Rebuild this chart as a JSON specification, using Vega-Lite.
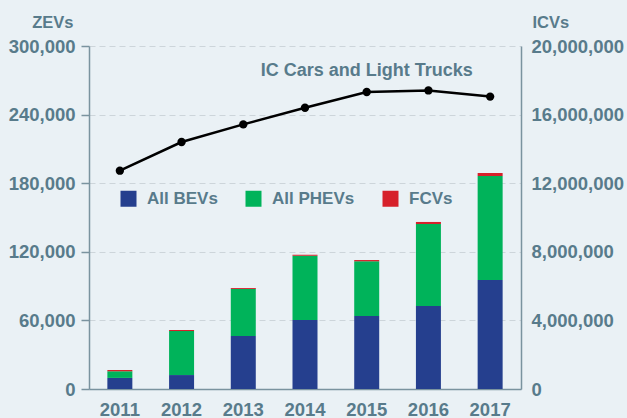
{
  "$schema": "https://vega.github.io/schema/vega-lite/v6.json",
  "width": 432,
  "height": 343,
  "autosize": {"type": "none"},
  "padding": {"left": 89, "top": 46, "right": 106, "bottom": 29},
  "background": "#eaf1f5",
  "config": {
    "view": {"stroke": null},
    "font": "Liberation Sans",
    "axis": {
      "labelFont": "Liberation Sans",
      "labelFontSize": 18.5,
      "labelFontWeight": "bold",
      "labelColor": "#587b8b",
      "titleFont": "Liberation Sans",
      "titleFontSize": 16.5,
      "titleFontWeight": "bold",
      "titleColor": "#587b8b",
      "domainColor": "#7a939f",
      "domainWidth": 1.5,
      "tickColor": "#7a939f",
      "tickWidth": 1.5
    }
  },
  "datasets": {
    "zev": [
      {"year": "2011", "type": "All BEVs", "order": 1, "count": 9700},
      {"year": "2011", "type": "All PHEVs", "order": 2, "count": 5800},
      {"year": "2011", "type": "FCVs", "order": 3, "count": 1100},
      {"year": "2012", "type": "All BEVs", "order": 1, "count": 12200},
      {"year": "2012", "type": "All PHEVs", "order": 2, "count": 38500},
      {"year": "2012", "type": "FCVs", "order": 3, "count": 900},
      {"year": "2013", "type": "All BEVs", "order": 1, "count": 46400},
      {"year": "2013", "type": "All PHEVs", "order": 2, "count": 41100},
      {"year": "2013", "type": "FCVs", "order": 3, "count": 800},
      {"year": "2014", "type": "All BEVs", "order": 1, "count": 60300},
      {"year": "2014", "type": "All PHEVs", "order": 2, "count": 56300},
      {"year": "2014", "type": "FCVs", "order": 3, "count": 900},
      {"year": "2015", "type": "All BEVs", "order": 1, "count": 63800},
      {"year": "2015", "type": "All PHEVs", "order": 2, "count": 47900},
      {"year": "2015", "type": "FCVs", "order": 3, "count": 1100},
      {"year": "2016", "type": "All BEVs", "order": 1, "count": 72600},
      {"year": "2016", "type": "All PHEVs", "order": 2, "count": 71700},
      {"year": "2016", "type": "FCVs", "order": 3, "count": 1800},
      {"year": "2017", "type": "All BEVs", "order": 1, "count": 95300},
      {"year": "2017", "type": "All PHEVs", "order": 2, "count": 91000},
      {"year": "2017", "type": "FCVs", "order": 3, "count": 2600}
    ],
    "icv": [
      {"year": "2011", "value": 12730000},
      {"year": "2012", "value": 14400000},
      {"year": "2013", "value": 15430000},
      {"year": "2014", "value": 16400000},
      {"year": "2015", "value": 17320000},
      {"year": "2016", "value": 17410000},
      {"year": "2017", "value": 17050000}
    ],
    "note": [
      {"year": "2015", "value": 18570000, "label": "IC Cars and Light Trucks"}
    ]
  },
  "layer": [
    {
      "data": {"name": "zev"},
      "mark": {"type": "bar"},
      "encoding": {
        "x": {
          "field": "year",
          "type": "ordinal",
          "scale": {"paddingInner": 0.595, "paddingOuter": 0.2975},
          "axis": {"title": null, "labelAngle": 0, "ticks": false, "labelPadding": 11, "grid": false}
        },
        "y": {
          "field": "count",
          "type": "quantitative",
          "stack": "zero",
          "scale": {"domain": [0, 300000], "nice": false},
          "axis": {
            "orient": "left",
            "values": [0, 60000, 120000, 180000, 240000, 300000],
            "format": ",d",
            "title": "ZEVs",
            "titleAngle": 0,
            "titleX": -16,
            "titleY": -19,
            "titleAlign": "right",
            "titleBaseline": "alphabetic",
            "tickSize": 8,
            "labelPadding": 6,
            "grid": true,
            "gridDash": [6, 4],
            "gridColor": "#cdd5da",
            "gridWidth": 1
          }
        },
        "color": {
          "field": "type",
          "type": "nominal",
          "scale": {"domain": ["All BEVs", "All PHEVs", "FCVs"], "range": ["#253f8e", "#00b35a", "#d6202a"]},
          "legend": {
            "orient": "none",
            "legendX": 31,
            "legendY": 144,
            "direction": "horizontal",
            "title": null,
            "symbolType": "square",
            "symbolSize": 256,
            "symbolStrokeWidth": 0,
            "symbolOpacity": 1,
            "labelFont": "Liberation Sans",
            "labelFontSize": 17,
            "labelFontWeight": "bold",
            "labelColor": "#587b8b",
            "labelOffset": 10,
            "columnPadding": 27,
            "encode": {
              "symbols": {
                "update": {
                  "fill": {"signal": "datum.value === 'All PHEVs' ? '#3fae49' : scale('color', datum.value)"}
                }
              }
            }
          }
        },
        "order": {"field": "order", "type": "quantitative"}
      }
    },
    {
      "layer": [
        {
          "data": {"name": "icv"},
          "mark": {"type": "line", "color": "#000000", "strokeWidth": 2.5},
          "encoding": {
            "x": {"field": "year", "type": "ordinal"},
            "y": {
              "field": "value",
              "type": "quantitative",
              "scale": {"domain": [0, 20000000], "nice": false},
              "axis": {
                "orient": "right",
                "values": [0, 4000000, 8000000, 12000000, 16000000, 20000000],
                "format": ",d",
                "title": "ICVs",
                "titleAngle": 0,
                "titleX": 11,
                "titleY": -19,
                "titleAlign": "left",
                "titleBaseline": "alphabetic",
                "ticks": false,
                "labelPadding": 10,
                "grid": false
              }
            }
          }
        },
        {
          "data": {"name": "icv"},
          "mark": {"type": "point", "filled": true, "color": "#000000", "size": 70, "opacity": 1},
          "encoding": {
            "x": {"field": "year", "type": "ordinal"},
            "y": {"field": "value", "type": "quantitative"}
          }
        },
        {
          "data": {"name": "note"},
          "mark": {"type": "text", "font": "Liberation Sans", "fontSize": 18, "fontWeight": "bold", "color": "#587b8b", "align": "center", "baseline": "middle"},
          "encoding": {
            "x": {"field": "year", "type": "ordinal"},
            "y": {"field": "value", "type": "quantitative"},
            "text": {"field": "label"}
          }
        }
      ]
    }
  ],
  "resolve": {"scale": {"y": "independent"}}
}
